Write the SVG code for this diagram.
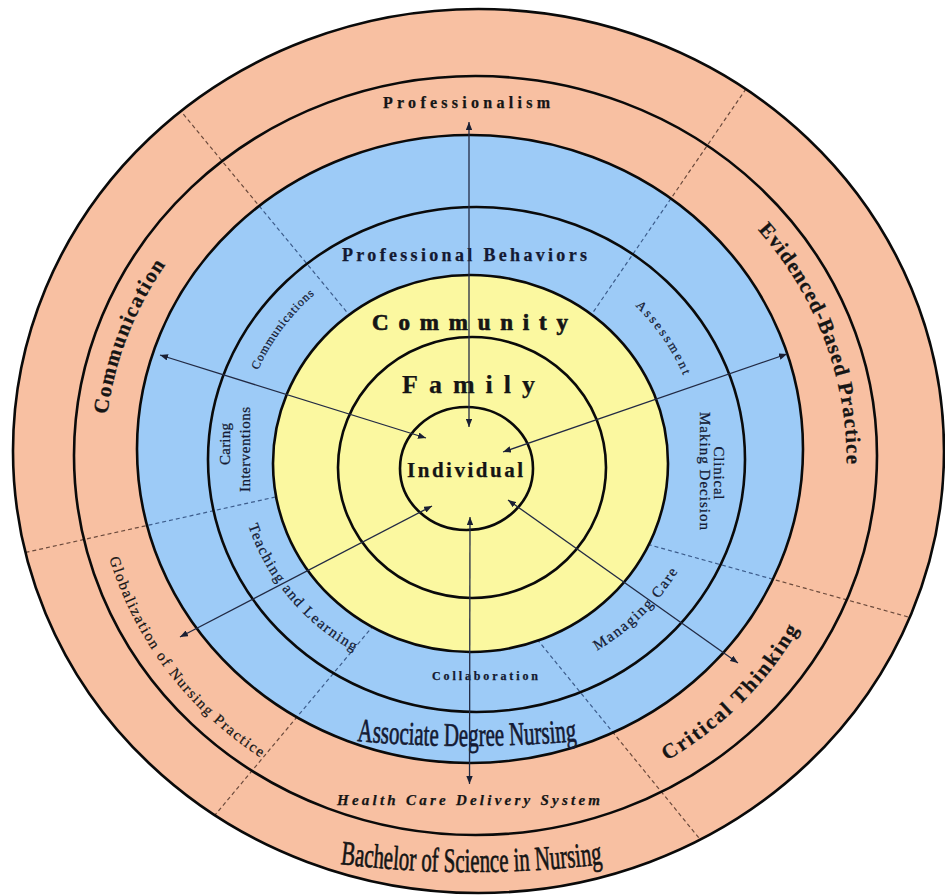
<svg xmlns="http://www.w3.org/2000/svg" width="945" height="896" viewBox="0 0 945 896">
<style>
.t{font-family:"Liberation Serif","Times New Roman",serif;fill:#151515;stroke:#151515;stroke-width:0.25;}
.nv{fill:#141a33;stroke:#141a33;}
.b{font-weight:bold;}
.hv{stroke-width:0.7;}
.ring{fill:none;stroke:#0a0a0a;stroke-width:2.6;}
.dS{stroke:#6b4a3c;stroke-width:1.2;stroke-dasharray:4 3;fill:none;}
.dB{stroke:#3d5d8c;stroke-width:1.2;stroke-dasharray:4 3;fill:none;}
.con{stroke:#222a44;stroke-width:1.3;fill:none;marker-start:url(#ah);marker-end:url(#ah);}
</style>
<defs>
<marker id="ah" viewBox="0 0 10 8" refX="10" refY="4" markerWidth="8" markerHeight="6.4" markerUnits="userSpaceOnUse" orient="auto-start-reverse"><path d="M0,0 L10,4 L0,8 z" fill="#1a1f33"/></marker>
<clipPath id="cOuter"><ellipse cx="478.5" cy="451" rx="465.5" ry="442"/></clipPath>
<clipPath id="cBlue"><ellipse cx="470" cy="449" rx="333" ry="314"/></clipPath>
<path id="pComm" d="M126.7,577.7 A367.5,350 0 0 1 288.25,154.9"/>
<path id="pEbp" d="M661.8,152.9 A375.9,358 0 0 1 823.6,584.6"/>
<path id="pCrit" d="M547.6,805.6 A372.8,355 0 0 0 840.9,509.3"/>
<path id="pGlob" d="M100,398.5 A380,362 0 0 0 409.8,815.2"/>
<path id="pComms" d="M239.9,438.3 A233,222 0 0 1 373.9,256.6"/>
<path id="pAssess" d="M575.3,264 A228.4,217.5 0 0 1 700.1,446.2"/>
<path id="pTeach" d="M237.7,471.3 A234.7,223.5 0 0 0 404.9,672.2"/>
<path id="pManage" d="M537.9,675.6 A237.8,226.5 0 0 0 702.8,512.4"/>
<path id="pAdn" d="M347,740 A1200,1200 0 0 0 587,740"/>
<path id="pBsn" d="M340,864 A1080,1080 0 0 0 603,864"/>
</defs>

<g id="ring-bsn">
<ellipse cx="478.5" cy="451" rx="465.5" ry="442" fill="#F8C0A2"/>
<g clip-path="url(#cOuter)">
<line class="dS" x1="170" y1="98" x2="355" y2="322"/>
<line class="dS" x1="750" y1="83" x2="583" y2="327"/>
<line class="dS" x1="5" y1="557" x2="280" y2="496"/>
<line class="dS" x1="955" y1="630" x2="650" y2="545"/>
<line class="dS" x1="205" y1="827" x2="378" y2="620"/>
<line class="dS" x1="712" y1="854" x2="532" y2="633"/>
</g>
<ellipse class="ring" cx="478.5" cy="451" rx="465.5" ry="442" stroke-width="3"/>
<ellipse class="ring" cx="475.5" cy="455.5" rx="401.5" ry="379.5"/>
<text class="t b" x="466.5" y="108" font-size="16" text-anchor="middle" textLength="167" lengthAdjust="spacing">Professionalism</text>
<text class="t b" x="468.5" y="805" font-size="15" font-style="italic" text-anchor="middle" textLength="263" lengthAdjust="spacing">Health Care Delivery System</text>
<text class="t hv" font-size="34" text-anchor="middle"><textPath href="#pBsn" startOffset="50%" textLength="263" lengthAdjust="spacingAndGlyphs">Bachelor of Science in Nursing</textPath></text>
<text class="t b" font-size="21" text-anchor="middle"><textPath href="#pComm" startOffset="50%" textLength="162" lengthAdjust="spacing">Communication</textPath></text>
<text class="t b" font-size="21" text-anchor="middle"><textPath href="#pEbp" startOffset="50%" textLength="256" lengthAdjust="spacing">Evidenced-Based Practice</textPath></text>
<text class="t b" font-size="21" text-anchor="middle"><textPath href="#pCrit" startOffset="50%" textLength="188" lengthAdjust="spacing">Critical Thinking</textPath></text>
<text class="t" font-size="15" text-anchor="middle"><textPath href="#pGlob" startOffset="50%" textLength="255" lengthAdjust="spacing">Globalization of Nursing Practice</textPath></text>
</g>

<g id="ring-adn">
<ellipse cx="470" cy="449" rx="333" ry="314" fill="#9DCBF7"/>
<g clip-path="url(#cBlue)">
<line class="dB" x1="170" y1="98" x2="355" y2="322"/>
<line class="dB" x1="750" y1="83" x2="583" y2="327"/>
<line class="dB" x1="5" y1="557" x2="280" y2="496"/>
<line class="dB" x1="955" y1="630" x2="650" y2="545"/>
<line class="dB" x1="205" y1="827" x2="378" y2="620"/>
<line class="dB" x1="712" y1="854" x2="532" y2="633"/>
</g>
<ellipse class="ring" cx="470" cy="449" rx="333" ry="314"/>
<ellipse class="ring" cx="476.5" cy="459.5" rx="268.5" ry="252.5"/>
<text class="t nv b" x="464.5" y="261" font-size="18" text-anchor="middle" textLength="245" lengthAdjust="spacing">Professional Behaviors</text>
<text class="t nv hv" font-size="33" text-anchor="middle"><textPath href="#pAdn" startOffset="50%" textLength="220" lengthAdjust="spacingAndGlyphs">Associate Degree Nursing</textPath></text>
<text class="t nv b" x="485" y="680" font-size="12" text-anchor="middle" textLength="106" lengthAdjust="spacing">Collaboration</text>
<text class="t nv" font-size="12" text-anchor="middle"><textPath href="#pComms" startOffset="50%" textLength="95" lengthAdjust="spacing">Communications</textPath></text>
<text class="t nv" font-size="13" text-anchor="middle"><textPath href="#pAssess" startOffset="50%" textLength="85" lengthAdjust="spacing">Assessment</textPath></text>
<text class="t nv" font-size="15" text-anchor="middle"><textPath href="#pTeach" startOffset="50%" textLength="168" lengthAdjust="spacing">Teaching and Learning</textPath></text>
<text class="t nv" font-size="15" text-anchor="middle"><textPath href="#pManage" startOffset="50%" textLength="114" lengthAdjust="spacing">Managing Care</textPath></text>
<text class="t nv" font-size="15" text-anchor="middle" transform="translate(230,444) rotate(-90)" textLength="42" lengthAdjust="spacing">Caring</text>
<text class="t nv" font-size="15" text-anchor="middle" transform="translate(250,449.5) rotate(-90)" textLength="85" lengthAdjust="spacing">Interventions</text>
<text class="t nv" font-size="15" text-anchor="middle" transform="translate(714,473) rotate(90)" textLength="53" lengthAdjust="spacing">Clinical</text>
<text class="t nv" font-size="15" text-anchor="middle" transform="translate(700,471) rotate(90)" textLength="118" lengthAdjust="spacing">Making Decision</text>
</g>

<g id="ring-community">
<ellipse cx="470.5" cy="463.5" rx="197.5" ry="188.5" fill="#FBF8A0"/>
<ellipse class="ring" cx="470.5" cy="463.5" rx="197.5" ry="188.5"/>
<text class="t b hv" x="470" y="330" font-size="23" text-anchor="middle" textLength="196" lengthAdjust="spacing">Community</text>
</g>

<g id="ring-family">
<ellipse class="ring" cx="472" cy="467.5" rx="134" ry="130.5"/>
<text class="t b" x="468.5" y="393" font-size="26" text-anchor="middle" textLength="133" lengthAdjust="spacing" stroke-width="1">Family</text>
</g>

<g id="ring-individual">
<ellipse class="ring" cx="466.5" cy="468.5" rx="66.5" ry="61.5"/>
<text class="t b" x="465" y="477" font-size="21" text-anchor="middle" textLength="116" lengthAdjust="spacing">Individual</text>
</g>

<g id="connectors">
<line class="con" x1="469" y1="427" x2="469" y2="122"/>
<line class="con" x1="470" y1="517" x2="469.5" y2="784"/>
<line class="con" x1="426" y1="438" x2="160" y2="355"/>
<line class="con" x1="503" y1="452" x2="787" y2="354"/>
<line class="con" x1="432" y1="506" x2="180" y2="637"/>
<line class="con" x1="508" y1="500" x2="738" y2="663"/>
</g>
</svg>
